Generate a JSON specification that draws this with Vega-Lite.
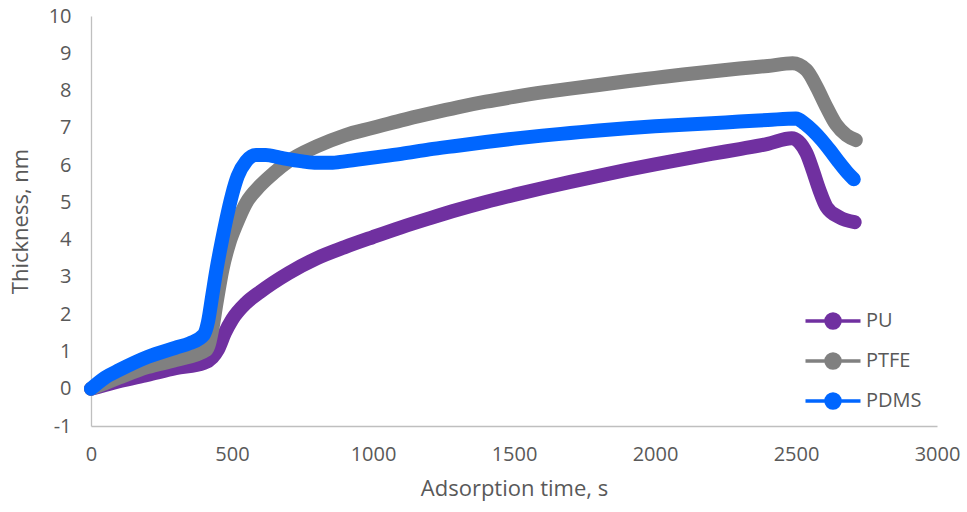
{
  "$schema": "https://vega.github.io/schema/vega-lite/v6.json",
  "width": 846,
  "height": 410,
  "autosize": {"type": "none"},
  "padding": {"left": 91, "top": 16, "right": 30, "bottom": 86},
  "background": "white",
  "config": {
    "view": {"stroke": null},
    "font": "Open Sans",
    "axis": {
      "grid": false,
      "ticks": false,
      "domainColor": "#BFBFBF",
      "domainWidth": 1.3,
      "labelColor": "#595959",
      "titleColor": "#595959",
      "labelFont": "Open Sans",
      "titleFont": "Open Sans",
      "labelFontSize": 20,
      "titleFontSize": 22,
      "titleFontWeight": "normal",
      "labelFlush": false,
      "labelExpr": "'' + datum.value"
    }
  },
  "data": {
    "values": [
      {"series": "PU", "t": 0, "v": 0},
      {"series": "PU", "t": 50, "v": 0.1},
      {"series": "PU", "t": 100, "v": 0.2},
      {"series": "PU", "t": 200, "v": 0.37},
      {"series": "PU", "t": 300, "v": 0.55},
      {"series": "PU", "t": 400, "v": 0.69},
      {"series": "PU", "t": 430, "v": 0.84},
      {"series": "PU", "t": 450, "v": 1.05},
      {"series": "PU", "t": 475, "v": 1.5},
      {"series": "PU", "t": 500, "v": 1.85},
      {"series": "PU", "t": 550, "v": 2.3},
      {"series": "PU", "t": 600, "v": 2.6},
      {"series": "PU", "t": 700, "v": 3.1},
      {"series": "PU", "t": 800, "v": 3.5},
      {"series": "PU", "t": 900, "v": 3.8},
      {"series": "PU", "t": 1000, "v": 4.07},
      {"series": "PU", "t": 1100, "v": 4.33},
      {"series": "PU", "t": 1200, "v": 4.57},
      {"series": "PU", "t": 1300, "v": 4.8},
      {"series": "PU", "t": 1400, "v": 5.01},
      {"series": "PU", "t": 1500, "v": 5.2},
      {"series": "PU", "t": 1600, "v": 5.38},
      {"series": "PU", "t": 1700, "v": 5.55},
      {"series": "PU", "t": 1800, "v": 5.71},
      {"series": "PU", "t": 1900, "v": 5.87},
      {"series": "PU", "t": 2000, "v": 6.02},
      {"series": "PU", "t": 2100, "v": 6.16},
      {"series": "PU", "t": 2200, "v": 6.3},
      {"series": "PU", "t": 2300, "v": 6.43},
      {"series": "PU", "t": 2400, "v": 6.57},
      {"series": "PU", "t": 2485, "v": 6.72},
      {"series": "PU", "t": 2537, "v": 6.32},
      {"series": "PU", "t": 2559, "v": 5.87},
      {"series": "PU", "t": 2583, "v": 5.33},
      {"series": "PU", "t": 2608, "v": 4.88},
      {"series": "PU", "t": 2654, "v": 4.6},
      {"series": "PU", "t": 2708, "v": 4.47},
      {"series": "PTFE", "t": 0, "v": 0},
      {"series": "PTFE", "t": 50, "v": 0.15},
      {"series": "PTFE", "t": 100, "v": 0.3},
      {"series": "PTFE", "t": 200, "v": 0.58},
      {"series": "PTFE", "t": 300, "v": 0.77},
      {"series": "PTFE", "t": 410, "v": 1.05},
      {"series": "PTFE", "t": 430, "v": 1.6},
      {"series": "PTFE", "t": 445, "v": 2.3},
      {"series": "PTFE", "t": 466, "v": 3.2},
      {"series": "PTFE", "t": 490, "v": 3.9},
      {"series": "PTFE", "t": 515, "v": 4.4},
      {"series": "PTFE", "t": 550, "v": 4.98},
      {"series": "PTFE", "t": 600, "v": 5.45},
      {"series": "PTFE", "t": 650, "v": 5.8},
      {"series": "PTFE", "t": 700, "v": 6.1},
      {"series": "PTFE", "t": 800, "v": 6.5},
      {"series": "PTFE", "t": 900, "v": 6.8},
      {"series": "PTFE", "t": 1000, "v": 7.0},
      {"series": "PTFE", "t": 1100, "v": 7.2},
      {"series": "PTFE", "t": 1200, "v": 7.38},
      {"series": "PTFE", "t": 1300, "v": 7.55},
      {"series": "PTFE", "t": 1400, "v": 7.7},
      {"series": "PTFE", "t": 1500, "v": 7.83},
      {"series": "PTFE", "t": 1600, "v": 7.95},
      {"series": "PTFE", "t": 1700, "v": 8.05},
      {"series": "PTFE", "t": 1800, "v": 8.15},
      {"series": "PTFE", "t": 1900, "v": 8.25},
      {"series": "PTFE", "t": 2000, "v": 8.34},
      {"series": "PTFE", "t": 2100, "v": 8.43},
      {"series": "PTFE", "t": 2200, "v": 8.51},
      {"series": "PTFE", "t": 2300, "v": 8.59},
      {"series": "PTFE", "t": 2400, "v": 8.66},
      {"series": "PTFE", "t": 2488, "v": 8.73},
      {"series": "PTFE", "t": 2537, "v": 8.55},
      {"series": "PTFE", "t": 2573, "v": 8.1},
      {"series": "PTFE", "t": 2608, "v": 7.56},
      {"series": "PTFE", "t": 2643, "v": 7.08},
      {"series": "PTFE", "t": 2679, "v": 6.8},
      {"series": "PTFE", "t": 2712, "v": 6.67},
      {"series": "PDMS", "t": 0, "v": 0},
      {"series": "PDMS", "t": 50, "v": 0.3},
      {"series": "PDMS", "t": 100, "v": 0.5},
      {"series": "PDMS", "t": 200, "v": 0.85},
      {"series": "PDMS", "t": 300, "v": 1.1},
      {"series": "PDMS", "t": 350, "v": 1.22},
      {"series": "PDMS", "t": 400, "v": 1.45},
      {"series": "PDMS", "t": 415, "v": 1.8},
      {"series": "PDMS", "t": 430, "v": 2.5},
      {"series": "PDMS", "t": 445, "v": 3.2},
      {"series": "PDMS", "t": 465, "v": 4.0},
      {"series": "PDMS", "t": 480, "v": 4.55},
      {"series": "PDMS", "t": 500, "v": 5.2},
      {"series": "PDMS", "t": 520, "v": 5.7},
      {"series": "PDMS", "t": 550, "v": 6.1},
      {"series": "PDMS", "t": 585, "v": 6.27},
      {"series": "PDMS", "t": 620, "v": 6.27},
      {"series": "PDMS", "t": 670, "v": 6.2},
      {"series": "PDMS", "t": 750, "v": 6.1},
      {"series": "PDMS", "t": 800, "v": 6.06},
      {"series": "PDMS", "t": 850, "v": 6.06},
      {"series": "PDMS", "t": 900, "v": 6.1},
      {"series": "PDMS", "t": 1000, "v": 6.2},
      {"series": "PDMS", "t": 1100, "v": 6.3},
      {"series": "PDMS", "t": 1200, "v": 6.42},
      {"series": "PDMS", "t": 1300, "v": 6.52},
      {"series": "PDMS", "t": 1400, "v": 6.62},
      {"series": "PDMS", "t": 1500, "v": 6.71},
      {"series": "PDMS", "t": 1600, "v": 6.79},
      {"series": "PDMS", "t": 1700, "v": 6.86},
      {"series": "PDMS", "t": 1800, "v": 6.93},
      {"series": "PDMS", "t": 1900, "v": 6.99},
      {"series": "PDMS", "t": 2000, "v": 7.04},
      {"series": "PDMS", "t": 2100, "v": 7.08},
      {"series": "PDMS", "t": 2200, "v": 7.12},
      {"series": "PDMS", "t": 2300, "v": 7.17},
      {"series": "PDMS", "t": 2400, "v": 7.21},
      {"series": "PDMS", "t": 2500, "v": 7.25},
      {"series": "PDMS", "t": 2530, "v": 7.12},
      {"series": "PDMS", "t": 2560, "v": 6.92},
      {"series": "PDMS", "t": 2590, "v": 6.68},
      {"series": "PDMS", "t": 2620, "v": 6.4},
      {"series": "PDMS", "t": 2650, "v": 6.1},
      {"series": "PDMS", "t": 2680, "v": 5.82},
      {"series": "PDMS", "t": 2705, "v": 5.62}
    ]
  },
  "mark": {"type": "line", "strokeWidth": 14, "strokeCap": "round", "strokeJoin": "round", "interpolate": "monotone"},
  "encoding": {
    "x": {
      "field": "t", "type": "quantitative",
      "scale": {"domain": [0, 3000], "nice": false},
      "axis": {"values": [0, 500, 1000, 1500, 2000, 2500, 3000], "title": "Adsorption time, s", "labelPadding": 18, "titlePadding": 14}
    },
    "y": {
      "field": "v", "type": "quantitative",
      "scale": {"domain": [-1, 10], "nice": false, "zero": false},
      "axis": {"values": [-1, 0, 1, 2, 3, 4, 5, 6, 7, 8, 9, 10], "title": "Thickness, nm", "labelPadding": 20, "titlePadding": 16}
    },
    "color": {
      "field": "series", "type": "nominal",
      "scale": {"domain": ["PU", "PTFE", "PDMS"], "range": ["#7030A0", "#808080", "#0066FF"]},
      "legend": {
        "title": null,
        "orient": "none",
        "legendX": 720,
        "legendY": 283,
        "symbolType": "M-1.375,0L1.375,0M-0.35,0A0.35,0.35 0 1,0 0.35,0A0.35,0.35 0 1,0 -0.35,0",
        "symbolSize": 1600,
        "symbolStrokeWidth": 3.5,
        "labelFontSize": 20,
        "labelColor": "#595959",
        "labelFont": "Open Sans",
        "labelOffset": 11,
        "rowPadding": 4,
        "encode": {"symbols": {"update": {"fill": {"scale": "color", "field": "value"}}}}
      }
    },
    "order": {"field": "t", "type": "quantitative"}
  }
}
